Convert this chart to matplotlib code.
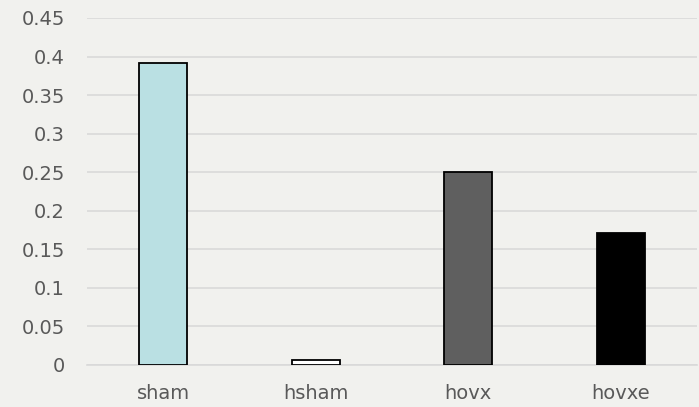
import matplotlib
matplotlib.use("Agg")
import matplotlib.pyplot as plt

categories = ["sham", "hsham", "hovx", "hovxe"]
values = [0.392, 0.007, 0.25, 0.171]
colors = ["#bae0e3", "#ffffff", "#5f5f5f", "#000000"]
yticks = [0, 0.05, 0.1, 0.15, 0.2, 0.25, 0.3, 0.35, 0.4, 0.45]
ytick_labels = ["0", "0.05", "0.1", "0.15", "0.2", "0.25", "0.3", "0.35", "0.4", "0.45"]

plt.rcParams['font.family'] = ['DejaVu Sans']
fig = plt.figure(figsize=(6.99, 4.07), dpi=100)
fig.patch.set_facecolor("#f1f1ee")
ax = fig.add_axes([87/699, 1 - 365/407, 610/699, 347/407])
ax.set_facecolor("none")

x = list(range(len(categories)))
ax.bar(x, values, width=0.315, color=colors, edgecolor="#000000", linewidth=1.3, zorder=3)

ax.set_xlim(-0.5, len(categories) - 0.5)
ax.set_ylim(0, 0.45)
ax.set_yticks(yticks)
ax.set_yticklabels(ytick_labels)
ax.set_xticks(x)
ax.set_xticklabels(categories)
ax.yaxis.grid(True, color="#d9d9d9", linewidth=1.2, zorder=0)
ax.set_axisbelow(True)
for s in ["top", "right", "left"]:
    ax.spines[s].set_visible(False)
ax.spines["bottom"].set_color("#d9d9d9")
ax.spines["bottom"].set_linewidth(1.2)
ax.tick_params(axis="both", length=0, labelsize=14, labelcolor="#595959")
ax.tick_params(axis="y", pad=16)
ax.tick_params(axis="x", pad=14)

fig.savefig("out.png", dpi=100, facecolor=fig.get_facecolor())
